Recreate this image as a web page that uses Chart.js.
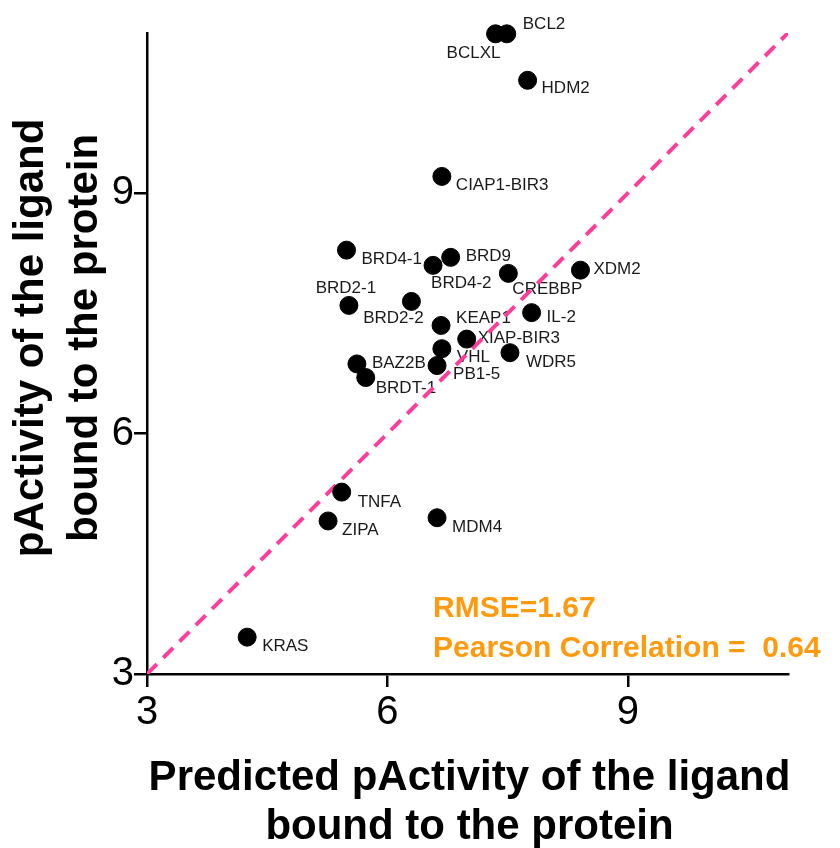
<!DOCTYPE html>
<html>
<head>
<meta charset="utf-8">
<script src="https://cdn.jsdelivr.net/npm/chart.js@4.4.1/dist/chart.umd.min.js"></script>
<style>
  html, body { margin: 0; padding: 0; background: #fff; }
  canvas { display: block; }
</style>
</head>
<body>
<canvas id="chart" width="840" height="848"></canvas>
<script>
// data
const proteins = ['BCL2', 'BCLXL', 'HDM2', 'CIAP1-BIR3', 'BRD4-1', 'BRD9', 'BRD4-2', 'CREBBP',
  'XDM2', 'BRD2-1', 'BRD2-2', 'IL-2', 'KEAP1', 'XIAP-BIR3', 'VHL', 'WDR5', 'PB1-5',
  'BAZ2B', 'BRDT-1', 'TNFA', 'ZIPA', 'MDM4', 'KRAS'];
const predicted = [7.49, 7.35, 7.75, 6.68, 5.49, 6.79, 6.57, 7.51,
  8.41, 5.52, 6.30, 7.80, 6.67, 6.99, 6.68, 7.53, 6.62,
  5.62, 5.73, 5.43, 5.26, 6.62, 4.25];
const measured = [10.99, 10.99, 10.41, 9.21, 8.29, 8.20, 8.10, 8.00,
  8.04, 7.60, 7.65, 7.51, 7.35, 7.18, 7.06, 7.01, 6.85,
  6.87, 6.70, 5.27, 4.91, 4.95, 3.46];
const identityLine = [3, 11];
const xTicks = [3, 6, 9];
const yTicks = [3, 6, 9];
const xTitle = ['Predicted pActivity of the ligand', 'bound to the protein'];
const yTitle = ['pActivity of the ligand', 'bound to the protein'];
const statLines = ['RMSE=1.67', 'Pearson Correlation =  0.64'];

// where each label sits relative to its dot: [dx, dy, align]
const labelPlace = {
  'BCL2': [16, -9, 'left'], 'BCLXL': [-22, 20, 'center'], 'HDM2': [14, 8, 'left'],
  'CIAP1-BIR3': [14, 9, 'left'], 'BRD4-1': [15, 9, 'left'], 'BRD9': [15, -1, 'left'],
  'BRD4-2': [-2, 18, 'left'], 'CREBBP': [4, 16, 'left'], 'XDM2': [13, -1, 'left'],
  'BRD2-1': [-3, -17, 'center'], 'BRD2-2': [-18, 17, 'center'], 'IL-2': [15, 5, 'left'],
  'KEAP1': [15, -7, 'left'], 'XIAP-BIR3': [11, -1, 'left'], 'VHL': [15, 9, 'left'],
  'WDR5': [16, 10, 'left'], 'PB1-5': [16, 9, 'left'], 'BAZ2B': [15, -1, 'left'],
  'BRDT-1': [10, 11, 'left'], 'TNFA': [16, 10, 'left'], 'ZIPA': [14, 9, 'left'],
  'MDM4': [15, 10, 'left'], 'KRAS': [15, 9, 'left']
};

const FONT = '"Liberation Sans", Arial, Helvetica, sans-serif';

// point labels, under the dots and the dashed line
const pointLabels = {
  id: 'pointLabels',
  beforeDatasetsDraw(chart) {
    const ctx = chart.ctx;
    const meta = chart.getDatasetMeta(0);
    ctx.save();
    ctx.font = '17px ' + FONT;
    ctx.fillStyle = '#1a1a1a';
    ctx.textBaseline = 'middle';
    meta.data.forEach(function(pt, i) {
      const p = labelPlace[proteins[i]] || [14, 8, 'left'];
      ctx.textAlign = p[2];
      ctx.fillText(proteins[i], pt.x + p[0], pt.y + p[1]);
    });
    ctx.restore();
  }
};

// axis titles and the stats text
const extraText = {
  id: 'extraText',
  afterDraw(chart) {
    const ctx = chart.ctx;
    const area = chart.chartArea;
    ctx.save();
    ctx.fillStyle = '#000';
    ctx.font = 'bold 42px ' + FONT;
    ctx.textAlign = 'center';
    ctx.textBaseline = 'alphabetic';
    const cx = (area.left + area.right) / 2 + 2;
    ctx.fillText(xTitle[0], cx, 790);
    ctx.fillText(xTitle[1], cx, 839);

    ctx.save();
    ctx.translate(43, 338);
    ctx.rotate(-Math.PI / 2);
    ctx.fillText(yTitle[0], 0, 0);
    ctx.fillText(yTitle[1], 0, 54);
    ctx.restore();

    ctx.fillStyle = '#ff9a0e';
    ctx.font = 'bold 30px ' + FONT;
    ctx.textAlign = 'left';
    ctx.fillText(statLines[0], 433, 617);
    ctx.fillText(statLines[1], 433, 657);
    ctx.restore();
  }
};

const points = proteins.map(function(name, i) {
  return { x: predicted[i], y: measured[i] };
});

new Chart(document.getElementById('chart'), {
  type: 'scatter',
  data: {
    datasets: [
      {
        label: 'proteins',
        data: points,
        backgroundColor: '#000',
        borderColor: '#000',
        pointRadius: 9,
        order: 0,
        clip: false
      },
      {
        type: 'line',
        label: 'identity',
        data: identityLine.map(function(v) { return { x: v, y: v }; }),
        borderColor: '#ff3d9a',
        borderWidth: 4,
        borderDash: [14, 9],
        pointRadius: 0,
        fill: false,
        order: 1
      }
    ]
  },
  options: {
    responsive: false,
    animation: false,
    events: [],
    layout: { padding: { top: 33, right: 52, left: 0, bottom: 0 } },
    plugins: {
      legend: { display: false },
      tooltip: { enabled: false }
    },
    scales: {
      x: {
        type: 'linear',
        min: 3,
        max: 11,
        afterBuildTicks(scale) { scale.ticks = xTicks.map(function(v) { return { value: v }; }); },
        afterFit(scale) { scale.height = 174; },
        grid: { drawOnChartArea: false, drawTicks: true, tickLength: 13, lineWidth: 2.5, color: '#000' },
        border: { display: true, color: '#000', width: 2.5 },
        ticks: { color: '#000', padding: 2, font: { family: FONT, size: 40 } }
      },
      y: {
        type: 'linear',
        min: 3,
        max: 11,
        afterBuildTicks(scale) { scale.ticks = yTicks.map(function(v) { return { value: v }; }); },
        afterFit(scale) { scale.width = 147; },
        grid: { drawOnChartArea: false, drawTicks: true, tickLength: 13, lineWidth: 2.5, color: '#000' },
        border: { display: true, color: '#000', width: 2.5 },
        ticks: { color: '#000', padding: 0, font: { family: FONT, size: 40 } }
      }
    }
  },
  plugins: [pointLabels, extraText]
});
</script>
</body>
</html>
